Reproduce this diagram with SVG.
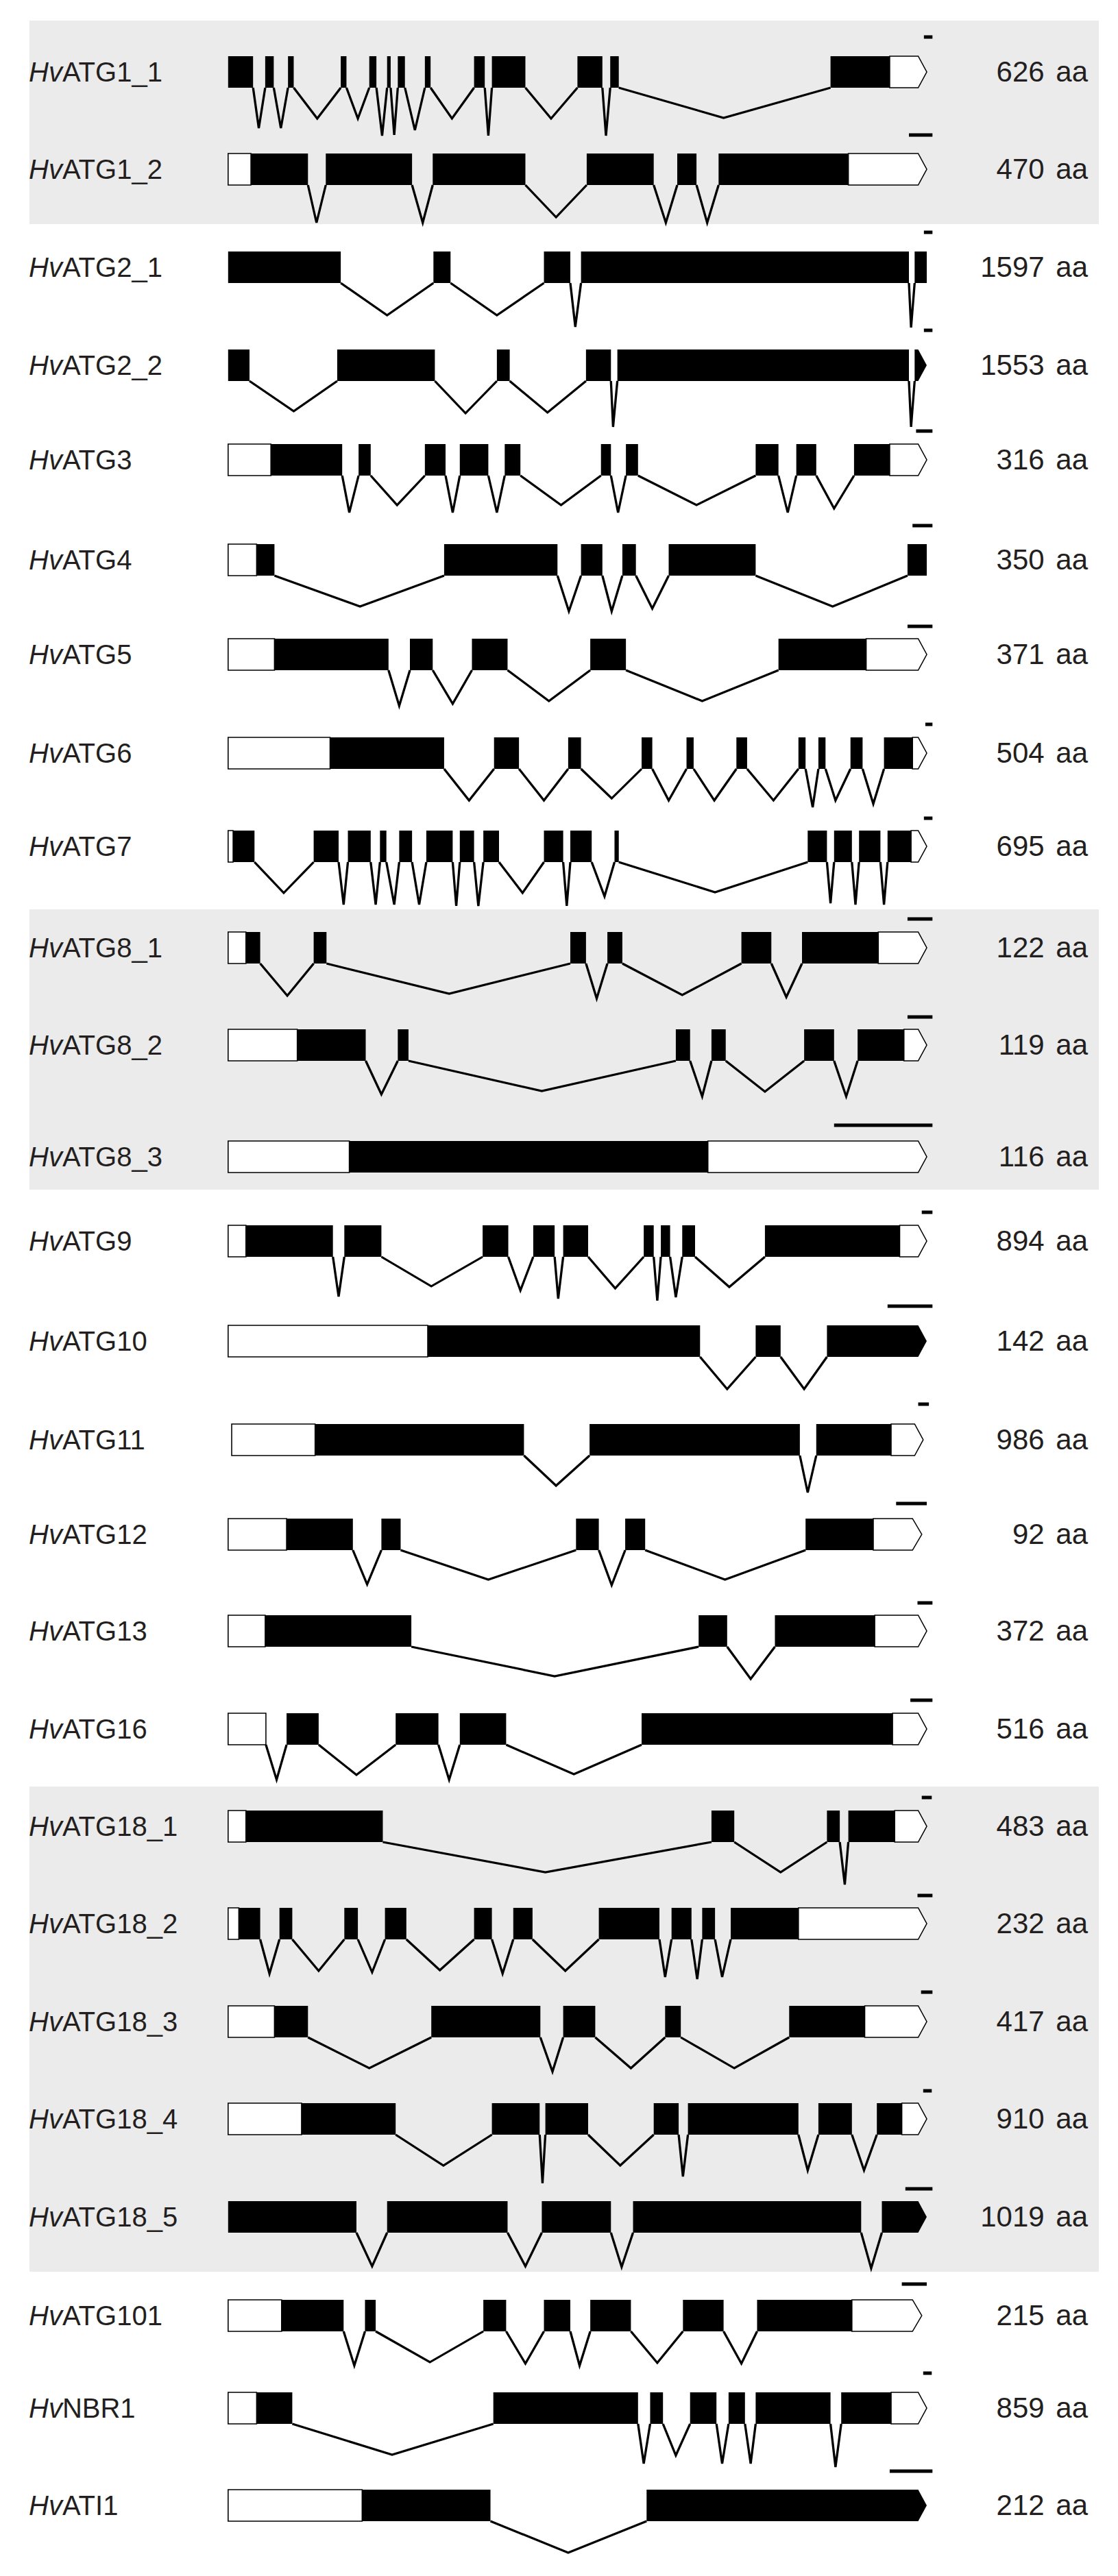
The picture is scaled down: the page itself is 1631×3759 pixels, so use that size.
<svg xmlns="http://www.w3.org/2000/svg" width="1631" height="3759" viewBox="0 0 1631 3759">
<style>
.k{fill:#000}
.w{fill:#fff;stroke:#000;stroke-width:1.5}
.i{fill:none;stroke:#000;stroke-width:3.2;stroke-linejoin:miter}
.sb{fill:#000}
.band{fill:#ebebec}
.lb{font-family:"Liberation Sans",Arial,sans-serif;font-size:40px;fill:#231f20}
.aa{font-family:"Liberation Sans",Arial,sans-serif;font-size:42px;fill:#231f20;text-anchor:end;word-spacing:5px}
.it{font-style:italic}
</style>
<rect x="0" y="0" width="1631" height="3759" fill="#fff"/>
<g id="bands">
<rect class="band" x="43" y="30" width="1560" height="297"/>
<rect class="band" x="43" y="1327" width="1560" height="409"/>
<rect class="band" x="43" y="2607" width="1560" height="708"/>
</g>
<g id="labels">
<text class="lb" x="42" y="119"><tspan class="it">Hv</tspan>ATG1_1</text>
<text class="lb" x="42" y="261"><tspan class="it">Hv</tspan>ATG1_2</text>
<text class="lb" x="42" y="404"><tspan class="it">Hv</tspan>ATG2_1</text>
<text class="lb" x="42" y="547"><tspan class="it">Hv</tspan>ATG2_2</text>
<text class="lb" x="42" y="685"><tspan class="it">Hv</tspan>ATG3</text>
<text class="lb" x="42" y="831"><tspan class="it">Hv</tspan>ATG4</text>
<text class="lb" x="42" y="969"><tspan class="it">Hv</tspan>ATG5</text>
<text class="lb" x="42" y="1113"><tspan class="it">Hv</tspan>ATG6</text>
<text class="lb" x="42" y="1249"><tspan class="it">Hv</tspan>ATG7</text>
<text class="lb" x="42" y="1397"><tspan class="it">Hv</tspan>ATG8_1</text>
<text class="lb" x="42" y="1539"><tspan class="it">Hv</tspan>ATG8_2</text>
<text class="lb" x="42" y="1702"><tspan class="it">Hv</tspan>ATG8_3</text>
<text class="lb" x="42" y="1825"><tspan class="it">Hv</tspan>ATG9</text>
<text class="lb" x="42" y="1971"><tspan class="it">Hv</tspan>ATG10</text>
<text class="lb" x="42" y="2115"><tspan class="it">Hv</tspan>ATG11</text>
<text class="lb" x="42" y="2253"><tspan class="it">Hv</tspan>ATG12</text>
<text class="lb" x="42" y="2394"><tspan class="it">Hv</tspan>ATG13</text>
<text class="lb" x="42" y="2537"><tspan class="it">Hv</tspan>ATG16</text>
<text class="lb" x="42" y="2679"><tspan class="it">Hv</tspan>ATG18_1</text>
<text class="lb" x="42" y="2821"><tspan class="it">Hv</tspan>ATG18_2</text>
<text class="lb" x="42" y="2964"><tspan class="it">Hv</tspan>ATG18_3</text>
<text class="lb" x="42" y="3106"><tspan class="it">Hv</tspan>ATG18_4</text>
<text class="lb" x="42" y="3249"><tspan class="it">Hv</tspan>ATG18_5</text>
<text class="lb" x="42" y="3393"><tspan class="it">Hv</tspan>ATG101</text>
<text class="lb" x="42" y="3528"><tspan class="it">Hv</tspan>NBR1</text>
<text class="lb" x="42" y="3670"><tspan class="it">Hv</tspan>ATI1</text>
</g>
<g id="lengths">
<text class="aa" x="1587" y="119">626 aa</text>
<text class="aa" x="1587" y="261">470 aa</text>
<text class="aa" x="1587" y="404">1597 aa</text>
<text class="aa" x="1587" y="547">1553 aa</text>
<text class="aa" x="1587" y="685">316 aa</text>
<text class="aa" x="1587" y="831">350 aa</text>
<text class="aa" x="1587" y="969">371 aa</text>
<text class="aa" x="1587" y="1113">504 aa</text>
<text class="aa" x="1587" y="1249">695 aa</text>
<text class="aa" x="1587" y="1397">122 aa</text>
<text class="aa" x="1587" y="1539">119 aa</text>
<text class="aa" x="1587" y="1702">116 aa</text>
<text class="aa" x="1587" y="1825">894 aa</text>
<text class="aa" x="1587" y="1971">142 aa</text>
<text class="aa" x="1587" y="2115">986 aa</text>
<text class="aa" x="1587" y="2253">92 aa</text>
<text class="aa" x="1587" y="2394">372 aa</text>
<text class="aa" x="1587" y="2537">516 aa</text>
<text class="aa" x="1587" y="2679">483 aa</text>
<text class="aa" x="1587" y="2821">232 aa</text>
<text class="aa" x="1587" y="2964">417 aa</text>
<text class="aa" x="1587" y="3106">910 aa</text>
<text class="aa" x="1587" y="3249">1019 aa</text>
<text class="aa" x="1587" y="3393">215 aa</text>
<text class="aa" x="1587" y="3528">859 aa</text>
<text class="aa" x="1587" y="3670">212 aa</text>
</g>

<g id="HvATG1_1" transform="translate(0,105) scale(1.04,1)">
<path class="k" d="M320 -23H355V23H320Z M372 -23H384V23H372Z M404 -23H412V23H404Z M478 -23H486V23H478Z M518 -23H528V23H518Z M543 -23H548V23H543Z M558 -23H568V23H558Z M596 -23H604V23H596Z M665 -23H680V23H665Z M690 -23H737V23H690Z M810 -23H845V23H810Z M856 -23H868V23H856Z M1165 -23H1248V23H1165Z"/>
<polygon class="w" points="1248,-23 1288,-23 1300,0 1288,23 1248,23"/>
<path class="i" d="M355 23L363 82L372 23 M384 23L394 82L404 23 M412 23L445 68L478 23 M486 23L502 68L518 23 M528 23L536 93L543 23 M548 23L553 92L558 23 M568 23L582 85L596 23 M604 23L634 68L665 23 M680 23L685 93L690 23 M737 23L773 68L810 23 M845 23L850 93L856 23 M868 23L1015 67L1165 23"/>
<rect class="sb" x="1296" y="-53.5" width="12" height="5"/>
</g>

<g id="HvATG1_2" transform="translate(0,247) scale(1.04,1)">
<rect class="w" x="320" y="-23" width="32" height="46"/>
<polygon class="w" points="1190,-23 1288,-23 1300,0 1288,23 1190,23"/>
<path class="k" d="M352 -23H432V23H352Z M457 -23H578V23H457Z M607 -23H737V23H607Z M823 -23H917V23H823Z M950 -23H977V23H950Z M1008 -23H1190V23H1008Z"/>
<path class="i" d="M432 23L444 78L457 23 M578 23L593 78L607 23 M737 23L780 70L823 23 M917 23L934 78L950 23 M977 23L992 78L1008 23"/>
<rect class="sb" x="1275" y="-52.5" width="33" height="5"/>
</g>

<g id="HvATG2_1" transform="translate(0,390) scale(1.04,1)">
<path class="k" d="M320 -23H478V23H320Z M608 -23H632V23H608Z M763 -23H800V23H763Z M815 -23H1275V23H815Z M1283 -23H1300V23H1283Z"/>
<path class="i" d="M478 23L543 70L608 23 M632 23L697 70L763 23 M800 23L807 87L815 23 M1275 23L1278 88L1283 23"/>
<rect class="sb" x="1296" y="-53.5" width="12" height="5"/>
</g>

<g id="HvATG2_2" transform="translate(0,533) scale(1.04,1)">
<path class="k" d="M320 -23H350V23H320Z M473 -23H610V23H473Z M697 -23H715V23H697Z M822 -23H857V23H822Z M866 -23H1275V23H866Z"/>
<polygon class="k" points="1283,-23 1288,-23 1300,0 1288,23 1283,23"/>
<path class="i" d="M350 23L412 67L473 23 M610 23L653 70L697 23 M715 23L768 69L822 23 M857 23L860 90L866 23 M1275 23L1278 90L1283 23"/>
<rect class="sb" x="1296" y="-53.5" width="12" height="5"/>
</g>

<g id="HvATG3" transform="translate(0,671) scale(1.04,1)">
<rect class="w" x="320" y="-23" width="60" height="46"/>
<polygon class="w" points="1248,-23 1288,-23 1300,0 1288,23 1248,23"/>
<path class="k" d="M380 -23H480V23H380Z M503 -23H520V23H503Z M596 -23H625V23H596Z M645 -23H685V23H645Z M708 -23H730V23H708Z M843 -23H857V23H843Z M878 -23H895V23H878Z M1060 -23H1092V23H1060Z M1117 -23H1145V23H1117Z M1198 -23H1248V23H1198Z"/>
<path class="i" d="M480 23L490 77L503 23 M520 23L557 66L596 23 M625 23L635 77L645 23 M685 23L697 77L708 23 M730 23L787 66L843 23 M857 23L867 77L878 23 M895 23L977 66L1060 23 M1092 23L1105 77L1117 23 M1145 23L1170 71L1198 23"/>
<rect class="sb" x="1285" y="-44.5" width="23" height="5"/>
</g>

<g id="HvATG4" transform="translate(0,817) scale(1.04,1)">
<rect class="w" x="320" y="-23" width="40" height="46"/>
<path class="k" d="M360 -23H385V23H360Z M623 -23H782V23H623Z M815 -23H845V23H815Z M873 -23H892V23H873Z M938 -23H1060V23H938Z M1273 -23H1300V23H1273Z"/>
<path class="i" d="M385 23L505 68L623 23 M782 23L798 75L815 23 M845 23L858 75L873 23 M892 23L915 71L938 23 M1060 23L1168 68L1273 23"/>
<rect class="sb" x="1280" y="-52.5" width="28" height="5"/>
</g>

<g id="HvATG5" transform="translate(0,955) scale(1.04,1)">
<rect class="w" x="320" y="-23" width="65" height="46"/>
<polygon class="w" points="1215,-23 1288,-23 1300,0 1288,23 1215,23"/>
<path class="k" d="M385 -23H545V23H385Z M575 -23H607V23H575Z M662 -23H712V23H662Z M828 -23H878V23H828Z M1092 -23H1215V23H1092Z"/>
<path class="i" d="M545 23L560 75L575 23 M607 23L635 72L662 23 M712 23L770 68L828 23 M878 23L985 68L1092 23"/>
<rect class="sb" x="1273" y="-43.5" width="35" height="5"/>
</g>

<g id="HvATG6" transform="translate(0,1099) scale(1.04,1)">
<rect class="w" x="320" y="-23" width="143" height="46"/>
<polygon class="w" points="1280,-23 1288,-23 1300,0 1288,23 1280,23"/>
<path class="k" d="M463 -23H623V23H463Z M693 -23H728V23H693Z M797 -23H815V23H797Z M900 -23H915V23H900Z M963 -23H973V23H963Z M1033 -23H1048V23H1033Z M1120 -23H1130V23H1120Z M1148 -23H1158V23H1148Z M1193 -23H1210V23H1193Z M1240 -23H1280V23H1240Z"/>
<path class="i" d="M623 23L658 69L693 23 M728 23L763 69L797 23 M815 23L858 66L900 23 M915 23L938 69L963 23 M973 23L1002 69L1033 23 M1048 23L1085 69L1120 23 M1130 23L1140 79L1148 23 M1158 23L1172 69L1193 23 M1210 23L1225 74L1240 23"/>
<rect class="sb" x="1298" y="-44.5" width="10" height="5"/>
</g>

<g id="HvATG7" transform="translate(0,1235) scale(1.04,1)">
<rect class="w" x="320" y="-23" width="7" height="46"/>
<polygon class="w" points="1278,-23 1288,-23 1300,0 1288,23 1278,23"/>
<path class="k" d="M327 -23H357V23H327Z M440 -23H475V23H440Z M488 -23H520V23H488Z M533 -23H542V23H533Z M560 -23H578V23H560Z M598 -23H635V23H598Z M645 -23H665V23H645Z M678 -23H700V23H678Z M763 -23H790V23H763Z M800 -23H830V23H800Z M862 -23H868V23H862Z M1133 -23H1160V23H1133Z M1170 -23H1195V23H1170Z M1205 -23H1235V23H1205Z M1245 -23H1278V23H1245Z"/>
<path class="i" d="M357 23L398 68L440 23 M475 23L482 85L488 23 M520 23L527 85L533 23 M542 23L553 85L560 23 M578 23L588 85L598 23 M635 23L640 87L645 23 M665 23L671 87L678 23 M700 23L733 68L763 23 M790 23L795 87L800 23 M830 23L848 73L862 23 M868 23L1003 67L1133 23 M1160 23L1165 83L1170 23 M1195 23L1200 85L1205 23 M1235 23L1240 85L1245 23"/>
<rect class="sb" x="1296" y="-43.5" width="12" height="5"/>
</g>

<g id="HvATG8_1" transform="translate(0,1383) scale(1.04,1)">
<rect class="w" x="320" y="-23" width="25" height="46"/>
<polygon class="w" points="1232,-23 1288,-23 1300,0 1288,23 1232,23"/>
<path class="k" d="M345 -23H365V23H345Z M440 -23H458V23H440Z M800 -23H822V23H800Z M852 -23H873V23H852Z M1040 -23H1082V23H1040Z M1125 -23H1232V23H1125Z"/>
<path class="i" d="M365 23L403 70L440 23 M458 23L630 67L800 23 M822 23L837 74L852 23 M873 23L957 69L1040 23 M1082 23L1103 72L1125 23"/>
<rect class="sb" x="1273" y="-44.5" width="35" height="5"/>
</g>

<g id="HvATG8_2" transform="translate(0,1525) scale(1.04,1)">
<rect class="w" x="320" y="-23" width="97" height="46"/>
<polygon class="w" points="1268,-23 1288,-23 1300,0 1288,23 1268,23"/>
<path class="k" d="M417 -23H513V23H417Z M558 -23H573V23H558Z M948 -23H968V23H948Z M998 -23H1018V23H998Z M1128 -23H1170V23H1128Z M1203 -23H1268V23H1203Z"/>
<path class="i" d="M513 23L535 72L558 23 M573 23L760 67L948 23 M968 23L985 75L998 23 M1018 23L1073 68L1128 23 M1170 23L1187 75L1203 23"/>
<rect class="sb" x="1273" y="-43.5" width="35" height="5"/>
</g>

<g id="HvATG8_3" transform="translate(0,1688) scale(1.04,1)">
<rect class="w" x="320" y="-23" width="170" height="46"/>
<polygon class="w" points="993,-23 1288,-23 1300,0 1288,23 993,23"/>
<path class="k" d="M490 -23H993V23H490Z"/>
<rect class="sb" x="1170" y="-48.5" width="138" height="5"/>
</g>

<g id="HvATG9" transform="translate(0,1811) scale(1.04,1)">
<rect class="w" x="320" y="-23" width="25" height="46"/>
<polygon class="w" points="1262,-23 1288,-23 1300,0 1288,23 1262,23"/>
<path class="k" d="M345 -23H467V23H345Z M483 -23H535V23H483Z M677 -23H713V23H677Z M748 -23H778V23H748Z M790 -23H825V23H790Z M903 -23H917V23H903Z M927 -23H940V23H927Z M957 -23H975V23H957Z M1073 -23H1262V23H1073Z"/>
<path class="i" d="M467 23L475 81L483 23 M535 23L605 66L677 23 M713 23L730 72L748 23 M778 23L783 84L790 23 M825 23L863 69L903 23 M917 23L922 87L927 23 M940 23L948 82L957 23 M975 23L1023 67L1073 23"/>
<rect class="sb" x="1293" y="-44.5" width="15" height="5"/>
</g>

<g id="HvATG10" transform="translate(0,1957) scale(1.04,1)">
<rect class="w" x="320" y="-23" width="280" height="46"/>
<path class="k" d="M600 -23H982V23H600Z M1060 -23H1095V23H1060Z"/>
<polygon class="k" points="1160,-23 1288,-23 1300,0 1288,23 1160,23"/>
<path class="i" d="M982 23L1020 70L1060 23 M1095 23L1128 70L1160 23"/>
<rect class="sb" x="1245" y="-53.5" width="63" height="5"/>
</g>

<g id="HvATG11" transform="translate(0,2101) scale(1.04,1)">
<rect class="w" x="325" y="-23" width="117" height="46"/>
<polygon class="w" points="1250,-23 1283,-23 1295,0 1283,23 1250,23"/>
<path class="k" d="M442 -23H735V23H442Z M827 -23H1122V23H827Z M1145 -23H1250V23H1145Z"/>
<path class="i" d="M735 23L780 67L827 23 M1122 23L1133 77L1145 23"/>
<rect class="sb" x="1288" y="-54.5" width="15" height="5"/>
</g>

<g id="HvATG12" transform="translate(0,2239) scale(1.04,1)">
<rect class="w" x="320" y="-23" width="82" height="46"/>
<polygon class="w" points="1225,-23 1280,-23 1293,0 1280,23 1225,23"/>
<path class="k" d="M402 -23H495V23H402Z M535 -23H562V23H535Z M808 -23H840V23H808Z M877 -23H905V23H877Z M1130 -23H1225V23H1130Z"/>
<path class="i" d="M495 23L515 73L535 23 M562 23L685 66L808 23 M840 23L858 74L877 23 M905 23L1017 66L1130 23"/>
<rect class="sb" x="1257" y="-47.5" width="43" height="5"/>
</g>

<g id="HvATG13" transform="translate(0,2380) scale(1.04,1)">
<rect class="w" x="320" y="-23" width="52" height="46"/>
<polygon class="w" points="1227,-23 1288,-23 1300,0 1288,23 1227,23"/>
<path class="k" d="M372 -23H577V23H372Z M980 -23H1020V23H980Z M1087 -23H1227V23H1087Z"/>
<path class="i" d="M577 23L778 66L980 23 M1020 23L1053 70L1087 23"/>
<rect class="sb" x="1287" y="-43.5" width="21" height="5"/>
</g>

<g id="HvATG16" transform="translate(0,2523) scale(1.04,1)">
<rect class="w" x="320" y="-23" width="53" height="46"/>
<polygon class="w" points="1252,-23 1288,-23 1300,0 1288,23 1252,23"/>
<path class="k" d="M402 -23H447V23H402Z M555 -23H615V23H555Z M645 -23H710V23H645Z M900 -23H1252V23H900Z"/>
<path class="i" d="M373 23L388 74L402 23 M447 23L500 67L555 23 M615 23L630 74L645 23 M710 23L805 66L900 23"/>
<rect class="sb" x="1277" y="-44.5" width="31" height="5"/>
</g>

<g id="HvATG18_1" transform="translate(0,2665) scale(1.04,1)">
<rect class="w" x="320" y="-23" width="25" height="46"/>
<polygon class="w" points="1255,-23 1288,-23 1300,0 1288,23 1255,23"/>
<path class="k" d="M345 -23H537V23H345Z M998 -23H1030V23H998Z M1160 -23H1178V23H1160Z M1190 -23H1255V23H1190Z"/>
<path class="i" d="M537 23L765 67L998 23 M1030 23L1095 67L1160 23 M1178 23L1185 85L1190 23"/>
<rect class="sb" x="1293" y="-44.5" width="14" height="5"/>
</g>

<g id="HvATG18_2" transform="translate(0,2807) scale(1.04,1)">
<rect class="w" x="320" y="-23" width="15" height="46"/>
<polygon class="w" points="1120,-23 1288,-23 1300,0 1288,23 1120,23"/>
<path class="k" d="M335 -23H365V23H335Z M392 -23H410V23H392Z M483 -23H502V23H483Z M540 -23H570V23H540Z M665 -23H690V23H665Z M720 -23H747V23H720Z M840 -23H925V23H840Z M942 -23H970V23H942Z M985 -23H1003V23H985Z M1025 -23H1120V23H1025Z"/>
<path class="i" d="M365 23L378 73L392 23 M410 23L447 69L483 23 M502 23L522 71L540 23 M570 23L617 68L665 23 M690 23L705 73L720 23 M747 23L793 69L840 23 M925 23L933 78L942 23 M970 23L978 81L985 23 M1003 23L1013 78L1025 23"/>
<rect class="sb" x="1287" y="-43.5" width="21" height="5"/>
</g>

<g id="HvATG18_3" transform="translate(0,2950) scale(1.04,1)">
<rect class="w" x="320" y="-23" width="65" height="46"/>
<polygon class="w" points="1213,-23 1288,-23 1300,0 1288,23 1213,23"/>
<path class="k" d="M385 -23H432V23H385Z M605 -23H758V23H605Z M790 -23H835V23H790Z M933 -23H955V23H933Z M1107 -23H1213V23H1107Z"/>
<path class="i" d="M432 23L518 68L605 23 M758 23L775 73L790 23 M835 23L885 68L933 23 M955 23L1030 68L1107 23"/>
<rect class="sb" x="1292" y="-45.5" width="16" height="5"/>
</g>

<g id="HvATG18_4" transform="translate(0,3092) scale(1.04,1)">
<rect class="w" x="320" y="-23" width="103" height="46"/>
<polygon class="w" points="1265,-23 1288,-23 1300,0 1288,23 1265,23"/>
<path class="k" d="M423 -23H555V23H423Z M690 -23H757V23H690Z M765 -23H825V23H765Z M917 -23H952V23H917Z M965 -23H1120V23H965Z M1148 -23H1195V23H1148Z M1230 -23H1265V23H1230Z"/>
<path class="i" d="M555 23L622 68L690 23 M757 23L761 94L765 23 M825 23L870 68L917 23 M952 23L958 84L965 23 M1120 23L1133 75L1148 23 M1195 23L1212 75L1230 23"/>
<rect class="sb" x="1295" y="-43.5" width="12" height="5"/>
</g>

<g id="HvATG18_5" transform="translate(0,3235) scale(1.04,1)">
<path class="k" d="M320 -23H500V23H320Z M543 -23H712V23H543Z M760 -23H857V23H760Z M888 -23H1208V23H888Z"/>
<polygon class="k" points="1237,-23 1288,-23 1300,0 1288,23 1237,23"/>
<path class="i" d="M500 23L522 72L543 23 M712 23L737 72L760 23 M857 23L872 73L888 23 M1208 23L1222 75L1237 23"/>
<rect class="sb" x="1270" y="-43.5" width="38" height="5"/>
</g>

<g id="HvATG101" transform="translate(0,3379) scale(1.04,1)">
<rect class="w" x="320" y="-23" width="75" height="46"/>
<polygon class="w" points="1195,-23 1280,-23 1293,0 1280,23 1195,23"/>
<path class="k" d="M395 -23H482V23H395Z M512 -23H527V23H512Z M678 -23H710V23H678Z M763 -23H800V23H763Z M828 -23H885V23H828Z M958 -23H1015V23H958Z M1062 -23H1195V23H1062Z"/>
<path class="i" d="M482 23L497 73L512 23 M527 23L603 68L678 23 M710 23L737 70L763 23 M800 23L813 73L828 23 M885 23L922 69L958 23 M1015 23L1040 70L1062 23"/>
<rect class="sb" x="1265" y="-48.5" width="35" height="5"/>
</g>

<g id="HvNBR1" transform="translate(0,3514) scale(1.04,1)">
<rect class="w" x="320" y="-23" width="40" height="46"/>
<polygon class="w" points="1250,-23 1288,-23 1300,0 1288,23 1250,23"/>
<path class="k" d="M360 -23H410V23H360Z M692 -23H895V23H692Z M912 -23H930V23H912Z M968 -23H1005V23H968Z M1022 -23H1045V23H1022Z M1060 -23H1165V23H1060Z M1180 -23H1250V23H1180Z"/>
<path class="i" d="M410 23L550 68L692 23 M895 23L903 81L912 23 M930 23L948 69L968 23 M1005 23L1013 81L1022 23 M1045 23L1053 81L1060 23 M1165 23L1172 86L1180 23"/>
<rect class="sb" x="1295" y="-53.5" width="12" height="5"/>
</g>

<g id="HvATI1" transform="translate(0,3656) scale(1.04,1)">
<rect class="w" x="320" y="-23" width="188" height="46"/>
<path class="k" d="M508 -23H688V23H508Z"/>
<polygon class="k" points="907,-23 1288,-23 1300,0 1288,23 907,23"/>
<path class="i" d="M688 23L797 69L907 23"/>
<rect class="sb" x="1248" y="-52.5" width="60" height="5"/>
</g>
</svg>
